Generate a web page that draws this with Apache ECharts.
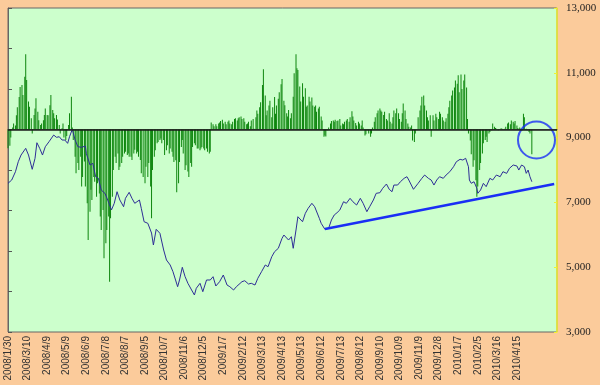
<!DOCTYPE html>
<html>
<head>
<meta charset="utf-8">
<script src="https://cdn.jsdelivr.net/npm/echarts@6/dist/echarts.min.js"></script>
<style>
html,body{margin:0;padding:0;background:#FBCB9B;}
#chart{width:600px;height:385px;}
</style>
</head>
<body>
<div id="chart"></div>
<script>
// x tick labels (one every 21 trading days)
const tickLabels = ['2008/1/30','2008/3/10','2008/4/9','2008/5/9','2008/6/9','2008/7/8','2008/8/7','2008/9/5','2008/10/7','2008/11/6','2008/12/5','2009/1/7','2009/2/12','2009/3/13','2009/4/13','2009/5/13','2009/6/12','2009/7/13','2009/8/12','2009/9/10','2009/10/9','2009/11/9','2009/12/8','2010/1/7','2010/2/5','2010/3/16','2010/4/15'];

// net buy/sell bars: [trading-day index, value] (left axis)
const netBuy = [
[0,-46],[2,-40],[3,-20],[5,5],[6,15],[8,10],[9,35],[10,55],[12,80],[13,105],[15,110],[16,85],[18,130],[19,186],[20,122],[22,69],[23,56],[25,28],[26,-10],[28,36],[29,52],[30,77],[32,44],[33,23],[35,11],[36,15],[38,23],[39,36],[40,52],[42,36],[43,35],[45,60],[46,85],[48,48],[49,40],[50,28],[52,36],[53,25],[55,11],[56,-10],[58,3],[59,15],[60,-20],[62,-26],[63,-16],[65,11],[66,40],[68,81],[69,5],[70,-26],[72,-67],[73,-108],[75,-83],[76,-100],[78,-67],[79,-141],[80,-117],[82,-79],[83,-141],[85,-182],[86,-273],[88,-203],[89,-149],[90,-174],[92,-117],[93,-129],[95,-166],[96,-133],[98,-158],[99,-215],[100,-248],[102,-199],[103,-318],[105,-281],[106,-248],[108,-215],[109,-376],[110,-219],[112,-166],[113,-100],[115,-67],[116,-83],[118,-59],[119,-100],[120,-92],[122,-83],[123,-67],[125,-59],[126,-55],[128,-63],[129,-59],[130,-67],[132,-67],[133,-75],[135,-59],[136,-50],[138,-59],[139,-55],[140,-67],[142,-75],[143,-108],[145,-117],
[147,-133],[148,-92],[150,-117],[151,-83],[153,-141],[154,-219],[155,-100],[157,-67],[158,-51],[160,-34],[161,-31],[163,-26],[164,-22],[165,-34],[167,-26],[168,-63],[170,-51],[171,-39],[173,-59],[174,-47],[176,-55],[177,-67],[178,-80],[180,-76],[181,-155],[183,-133],[184,-80],[186,-43],[187,-26],[188,-59],[190,-100],[191,-88],[193,-104],[194,-117],[196,-83],[197,-92],[198,-43],[200,-34],[201,-39],[203,-47],[204,-47],[206,-51],[207,-47],[208,-43],[210,-47],[211,-51],[213,-47],[214,-55],[216,-59],[217,-55],
[218,17],[220,13],[221,8],[223,13],[224,8],[226,15],[227,17],[228,21],[230,24],[231,15],[233,19],[234,13],[236,19],[237,22],[238,15],[240,13],[241,19],[243,26],[244,28],[246,22],[247,28],[248,30],[250,32],[251,26],[253,28],[254,19],[256,13],[257,15],[258,19],[260,8],[261,22],[263,26],[264,2],[266,30],[267,47],[268,39],[270,55],[271,67],[273,110],[274,149],[276,84],[277,35],[278,47],[280,59],[281,71],[283,30],[284,55],[286,80],[287,39],[288,59],[290,76],[291,92],[293,112],[294,125],[296,71],
[297,60],[299,40],[300,32],[301,48],[303,28],[304,40],[306,81],[307,139],[309,186],[310,151],[311,147],[313,106],[314,69],[316,114],[317,81],[319,102],[320,56],[321,59],[323,81],[324,69],[326,79],[327,59],[329,56],[330,59],[331,44],[333,52],[334,56],[336,32],[337,22],[339,-18],[340,-15],[341,-17],[343,-2],[344,5],[346,15],[347,21],[349,22],[350,19],[351,24],[353,21],[354,22],[356,26],[357,10],[359,15],[360,13],[361,19],[363,22],[364,26],[366,19],[367,30],[369,45],[370,32],[371,22],[373,16],[374,10],[376,19],[377,15],[379,10],[380,22],[381,5],[383,-15],[384,-12],[386,-2],[387,-10],[389,-18],[390,-10],[391,5],[393,19],[394,30],[396,40],[397,47],[399,52],[400,47],[401,44],[403,36],[404,44],[406,26],[407,22],[409,40],[410,19],[412,15],[413,30],[414,47],[416,40],[417,52],[419,40],[420,26],[422,19],[423,40],[424,64],[426,47],[427,26],[429,15],[430,7],[432,5],[433,10],[434,-27],[436,-31],[437,-10],[439,0],[440,30],[442,47],[443,59],[444,81],[446,84],
[447,59],[449,47],[450,30],[451,22],[453,35],[454,-18],[456,35],[457,22],[459,39],[460,30],[462,26],[463,44],[464,39],[466,30],[467,22],[469,19],[470,28],[472,39],[473,55],[474,71],[476,84],[477,96],[479,104],[480,121],[482,113],[483,134],[484,92],[486,136],[487,100],[489,121],[490,136],[492,104],[493,26],[494,-10],[496,-27],[497,-61],[499,-92],[500,-76],[502,-125],[503,-166],[504,-141],[506,-100],[507,-83],[509,-59],[510,-34],[512,-26],[513,-18],[514,-31],[516,-10],[517,-6],[519,-2],[520,15],[522,7],[523,4],[524,2],[526,-2],[527,1],[529,3],[530,2],[532,0],[533,2],[534,7],[536,15],[537,17],[539,13],[540,22],[542,19],[543,15],[544,21],[546,10],[547,4],[549,5],[550,2],[552,-2],[553,39],[554,30],[556,2],[557,-2],[559,-6],[560,-10],[562,-61]
];

// index line: [trading-day index, index value] (right axis)
const indexLine = [
[0,7589],[4,7691],[8,7947],[11,8255],[14,8462],[16,8410],[19,8669],[22,8462],[26,8021],[29,8360],[31,8842],[34,8669],[37,8462],[40,8718],[44,8873],[49,9079],[52,9008],[55,9027],[58,8925],[61,8925],[64,8823],[66,9027],[69,9255],[72,8925],[75,8718],[79,8700],[83,8740],[84,8515],[88,8154],[91,8206],[94,7793],[97,7743],[100,7382],[104,7280],[107,7074],[111,6767],[114,6972],[117,7330],[120,7074],[124,6867],[126,7126],[130,7311],[133,7126],[136,6972],[141,7074],[143,6817],[146,6404],
[150,6355],[154,6055],[156,5685],[159,6169],[163,6046],[167,5531],[170,5222],[174,5068],[177,4861],[182,4398],[184,4605],[187,4997],[190,4707],[193,4503],[197,4296],[200,4142],[202,4349],[206,4503],[209,4244],[213,4605],[217,4605],[220,4707],[223,4420],[227,4552],[231,4759],[235,4450],[238,4398],[242,4296],[245,4398],[251,4552],[254,4583],[258,4481],[261,4503],[265,4450],[268,4657],[272,4861],[276,5068],[279,5015],[283,5324],[286,5478],[290,5583],[294,5892],[296,5993],
[297,5941],[301,5839],[304,5941],[306,5583],[309,6148],[311,6558],[313,6611],[316,6404],[319,6663],[322,6817],[326,6972],[329,6867],[331,6817],[334,6509],[336,6355],[340,6169],[344,6200],[347,6456],[350,6611],[353,6682],[356,6765],[360,7021],[363,6972],[367,7126],[370,7021],[374,6919],[378,7126],[381,6972],[385,6713],[388,6867],[392,7074],[395,7280],[399,7299],[402,7435],[406,7567],[409,7404],[412,7330],[414,7536],[418,7536],[421,7638],[425,7743],[428,7793],[430,7691],[432,7638],[435,7404],[437,7382],[440,7589],[444,7743],[447,7845],
[451,7743],[454,7691],[457,7536],[460,7691],[463,7793],[467,7743],[470,7845],[474,7947],[478,8101],[481,8255],[485,8330],[488,8308],[491,8361],[494,8101],[495,7691],[497,7589],[500,7638],[503,7434],[504,7280],[507,7382],[510,7589],[513,7486],[517,7743],[520,7691],[524,7845],[528,7793],[531,7947],[535,7896],[538,8052],[542,8154],[546,8123],[548,7999],[551,8154],[554,8101],[556,7897],[558,7999],[560,7793],[562,7638]
];

// support trend line and highlight circle
const trendLine = [[340,6179],[586,7567]];
const circleMark = [[567,8925]];

const chart = echarts.init(document.getElementById('chart'), null, {renderer:'canvas'});
chart.setOption({
  animation: false,
  backgroundColor: '#FBCB9B',
  grid: {left: 8, right: 43, top: 8, bottom: 53, show: true, backgroundColor: '#CCFFCC', borderColor: '#666', borderWidth: 1},
  xAxis: {
    type: 'value', min: 0, max: 589, interval: 21,
    axisLine: {show: true, lineStyle: {color: '#666'}},
    axisTick: {show: false},
    splitLine: {show: false},
    axisLabel: {
      rotate: 90, fontSize: 10, fontFamily: 'Liberation Sans', color: '#333', margin: 4,
      showMaxLabel: false,
      formatter: function (v) { return (v % 21 === 0 && tickLabels[v / 21]) ? tickLabels[v / 21] : ''; }
    }
  },
  yAxis: [
    {
      type: 'value', position: 'left', min: -500, max: 300, interval: 100,
      axisLine: {show: true, lineStyle: {color: '#666'}},
      axisTick: {show: true, inside: true, length: 4, lineStyle: {color: '#555'}},
      axisLabel: {show: false},
      splitLine: {show: false}
    },
    {
      type: 'value', position: 'right', min: 3000, max: 13000, interval: 2000,
      axisLine: {show: true, lineStyle: {color: '#F2F230', width: 1.5}},
      axisTick: {show: true, inside: true, length: 3, lineStyle: {color: '#F2F230'}},
      splitLine: {show: false},
      axisLabel: {
        fontSize: 11, fontFamily: 'Liberation Serif', color: '#222', margin: 9,
        formatter: function (v) { return v.toLocaleString('en-US'); }
      }
    }
  ],
  series: [
    {
      type: 'bar', yAxisIndex: 0, data: netBuy, barWidth: 1,
      itemStyle: {color: '#0E860E'}, silent: true,
      markLine: {
        silent: true, symbol: ['none', 'none'], label: {show: false},
        lineStyle: {color: '#1a1a1a', width: 1.5, type: 'solid'},
        data: [{yAxis: 0}]
      }
    },
    {
      type: 'line', yAxisIndex: 1, data: indexLine, symbol: 'none', silent: true,
      lineStyle: {color: '#2E2E96', width: 1}
    },
    {
      type: 'line', yAxisIndex: 1, data: trendLine, symbol: 'none', silent: true,
      lineStyle: {color: '#1A2EF5', width: 2.5}
    },
    {
      type: 'scatter', yAxisIndex: 1, data: circleMark, symbol: 'circle', symbolSize: 37, silent: true,
      itemStyle: {color: 'rgba(0,0,0,0)', borderColor: '#1A2EF5', borderWidth: 2}
    }
  ]
});
</script>
</body>
</html>
